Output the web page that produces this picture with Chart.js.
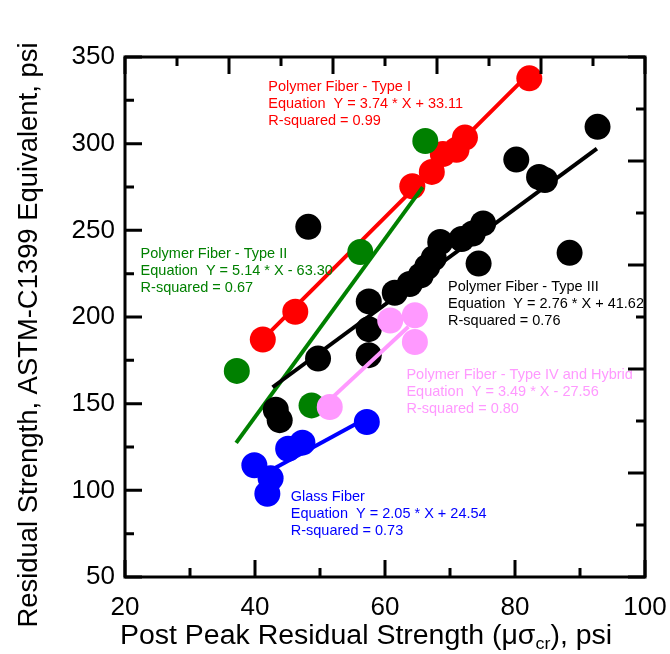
<!DOCTYPE html>
<html>
<head>
<meta charset="utf-8">
<script src="https://cdn.jsdelivr.net/npm/chart.js@4.4.0/dist/chart.umd.min.js"></script>
<style>
  html, body { margin: 0; padding: 0; background: #fff; }
  #wrap { width: 670px; height: 654px; }
</style>
</head>
<body>
<div id="wrap"><canvas id="chart" width="670" height="654"></canvas></div>
<script>
// post peak residual strength (x) vs ASTM-C1399 equivalent (y), psi
const type1X = [41.2, 46.2, 64.2, 67.2, 68.9, 71.0, 72.3, 82.2];
const type1Y = [187, 203, 275.4, 283.7, 294, 296.5, 303.5, 337.7];

const type2X = [37.2, 48.7, 56.2, 66.2];
const type2Y = [168.9, 149, 237.5, 301.5];

const type3X = [43.2, 43.8, 48.2, 49.7, 57.5, 57.5, 57.5, 61.5, 63.8, 65.5, 66.5, 67.5,
                68.5, 71.8, 73.5, 75.1, 74.4, 80.2, 83.7, 84.6, 88.4, 92.7];
const type3Y = [146.5, 140.5, 252, 176, 209, 193, 178, 214, 219, 224, 229, 234,
                243.3, 245, 248.2, 254, 230.8, 290.8, 280.8, 279, 237, 309.7];

const type4X = [51.5, 60.8, 64.6, 64.6];
const type4Y = [148.1, 198, 201, 185.6];

const glassX = [39.9, 42.4, 41.9, 45.1, 47.3, 57.2];
const glassY = [114.5, 107, 98, 124, 127.5, 139.4];

// one entry per group: Type I, Type II, Type III, Type IV/Hybrid, Glass
const groupNames = ['Polymer Fiber - Type I', 'Polymer Fiber - Type II', 'Polymer Fiber - Type III',
                    'Polymer Fiber - Type IV and Hybrid', 'Glass Fiber'];
const slopes = [3.74, 5.14, 2.76, 3.49, 2.05];
const intercepts = [33.11, -63.30, 41.62, -27.56, 24.54];
const rSquared = [0.99, 0.67, 0.76, 0.80, 0.73];
const fitFrom = [41.2, 37.1, 42.7, 51.5, 42.3];
const fitTo = [82.2, 65.8, 92.6, 63.6, 57.2];

const xTickLabels = [20, 40, 60, 80, 100];
const yTickLabels = [50, 100, 150, 200, 250, 300, 350];

const groupX = [type1X, type2X, type3X, type4X, glassX];
const groupY = [type1Y, type2Y, type3Y, type4Y, glassY];
const colors = ['#ff0000', '#008000', '#000000', '#ff99ff', '#0000ff'];
// where each group's text block starts (data units, left edge / first line)
const noteAt = [[42.05, 332.7], [22.4, 236.6], [69.7, 217.3], [63.3, 166.4], [45.5, 96.2]];

const FONT = '"Liberation Sans", Arial, sans-serif';

const datasets = [];
groupX.forEach((xs, i) => {
  datasets.push({
    type: 'scatter',
    data: xs.map((x, j) => ({ x: x, y: groupY[i][j] })),
    backgroundColor: colors[i],
    borderWidth: 0,
    pointRadius: 13,
    pointHoverRadius: 13,
    order: 10 - 2 * i
  });
  const line = [fitFrom[i], fitTo[i]].map(x => ({ x: x, y: slopes[i] * x + intercepts[i] }));
  datasets.push({
    type: 'line',
    data: line,
    borderColor: colors[i],
    borderWidth: 4,
    pointRadius: 0,
    fill: false,
    order: 9 - 2 * i
  });
});

function equationText(i) {
  const b = intercepts[i];
  return 'Equation  Y = ' + slopes[i].toFixed(2) + ' * X ' + (b < 0 ? '- ' : '+ ') + Math.abs(b).toFixed(2);
}

const frameAndText = {
  id: 'frameAndText',
  afterDatasetsDraw(chart) {
    const ctx = chart.ctx;
    const xs = chart.scales.x, ys = chart.scales.y;
    ctx.save();
    ctx.font = '14.5px ' + FONT;
    ctx.textAlign = 'left';
    ctx.textBaseline = 'middle';
    noteAt.forEach((p, i) => {
      const px = xs.getPixelForValue(p[0]);
      const py = ys.getPixelForValue(p[1]);
      ctx.fillStyle = colors[i];
      ctx.fillText(groupNames[i], px, py);
      ctx.fillText(equationText(i), px, py + 17);
      ctx.fillText('R-squared = ' + rSquared[i].toFixed(2), px, py + 34);
    });
    ctx.restore();
  },
  afterDraw(chart) {
    const ctx = chart.ctx;
    const a = chart.chartArea;
    const xs = chart.scales.x, ys = chart.scales.y;
    ctx.save();
    ctx.strokeStyle = '#000';
    ctx.lineWidth = 3;
    ctx.strokeRect(a.left, a.top, a.right - a.left, a.bottom - a.top);

    // inward tick marks on all four sides
    const big = 17, small = 9;
    ctx.beginPath();
    for (let v = 20, k = 0; v <= 100; v += 10, k++) {
      const px = xs.getPixelForValue(v), len = k % 2 ? small : big;
      ctx.moveTo(px, a.bottom); ctx.lineTo(px, a.bottom - len);
    }
    for (let v = 20, k = 0; v <= 100; v += 8, k++) {
      const px = xs.getPixelForValue(v), len = k % 2 ? small : big;
      ctx.moveTo(px, a.top); ctx.lineTo(px, a.top + len);
    }
    for (let v = 50, k = 0; v <= 350; v += 25, k++) {
      const py = ys.getPixelForValue(v), len = k % 2 ? small : big;
      ctx.moveTo(a.left, py); ctx.lineTo(a.left + len, py);
    }
    for (let v = 50, k = 0; v <= 350; v += 30, k++) {
      const py = ys.getPixelForValue(v), len = k % 2 ? small : big;
      ctx.moveTo(a.right, py); ctx.lineTo(a.right - len, py);
    }
    ctx.stroke();

    // axis titles (x title has a "cr" subscript, slightly widened)
    ctx.fillStyle = '#000';
    ctx.textBaseline = 'middle';
    const size = 27;
    const main = size + 'px ' + FONT, sub = Math.round(size * 0.62) + 'px ' + FONT;
    const parts = [['Post Peak Residual Strength (\u03bc\u03c3', main, 0], ['cr', sub, 7], ['), psi', main, 0]];
    const stretch = 1.055;
    let total = 0;
    parts.forEach(p => { ctx.font = p[1]; total += ctx.measureText(p[0]).width; });
    ctx.save();
    ctx.translate(366 - total * stretch / 2, 637);
    ctx.scale(stretch, 1);
    ctx.textAlign = 'left';
    let x = 0;
    parts.forEach(p => {
      ctx.font = p[1];
      ctx.fillText(p[0], x, p[2]);
      x += ctx.measureText(p[0]).width;
    });
    ctx.restore();

    ctx.translate(30, 335);
    ctx.rotate(-Math.PI / 2);
    ctx.scale(1.015, 1);
    ctx.font = main;
    ctx.textAlign = 'center';
    ctx.fillText('Residual Strength, ASTM-C1399 Equivalent, psi', 0, 0);
    ctx.restore();
  }
};

new Chart(document.getElementById('chart'), {
  data: { datasets: datasets },
  options: {
    responsive: false,
    animation: false,
    events: [],
    layout: { padding: { left: 0, right: 25, top: 57, bottom: 0 } },
    plugins: { legend: { display: false }, tooltip: { enabled: false } },
    scales: {
      x: {
        type: 'linear',
        min: 20, max: 100,
        grid: { display: false, drawTicks: false },
        border: { display: false },
        afterBuildTicks: s => { s.ticks = xTickLabels.map(v => ({ value: v })); },
        ticks: { color: '#000', padding: 15, font: { family: FONT, size: 26 } },
        afterFit: s => { s.height = 77; s.paddingLeft = 0; s.paddingRight = 0; }
      },
      y: {
        type: 'linear',
        min: 50, max: 350,
        grid: { display: false, drawTicks: false },
        border: { display: false },
        afterBuildTicks: s => { s.ticks = yTickLabels.map(v => ({ value: v })); },
        ticks: { color: '#000', padding: 10, font: { family: FONT, size: 26 } },
        afterFit: s => { s.width = 125; s.paddingTop = 0; s.paddingBottom = 0; }
      }
    }
  },
  plugins: [frameAndText]
});
</script>
</body>
</html>
